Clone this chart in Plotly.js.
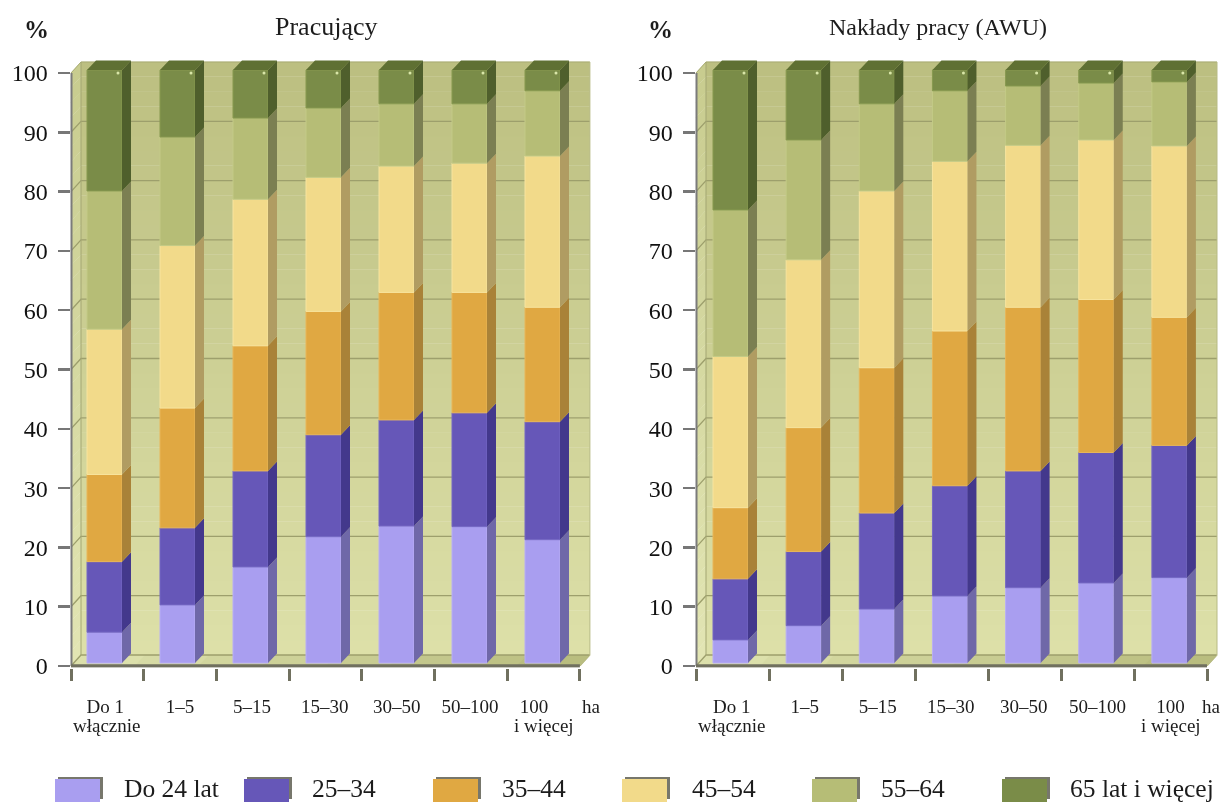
<!DOCTYPE html>
<html><head><meta charset="utf-8">
<script src="https://cdn.plot.ly/plotly-3.0.1.min.js"></script>
<style>html,body{margin:0;padding:0;background:#fff}#c{width:1223px;height:805px;filter:blur(0.45px)}</style>
</head><body><div id="c"></div>
<script>
const seriesNames = ['Do 24 lat','25–34','35–44','45–54','55–64','65 lat i więcej'];
const tickLabels = ['Do 1','1–5','5–15','15–30','30–50','50–100','100'];
const yTicks = [0,10,20,30,40,50,60,70,80,90,100];

// Pracujący
const p_do24 = [5.2,9.8,16.2,21.3,23.1,23.0,20.8];
const p_2534 = [11.9,13.0,16.2,17.2,17.9,19.2,19.9];
const p_3544 = [14.7,20.2,21.1,20.8,21.5,20.3,19.3];
const p_4554 = [24.5,27.4,24.7,22.6,21.3,21.8,25.5];
const p_5564 = [23.3,18.3,13.7,11.7,10.5,10.0,11.0];
const p_65   = [20.4,11.3,8.1,6.4,5.7,5.7,3.5];
// Nakłady pracy (AWU)
const n_do24 = [3.9,6.3,9.1,11.3,12.7,13.5,14.4];
const n_2534 = [10.3,12.5,16.2,18.6,19.7,22.0,22.3];
const n_3544 = [12.0,20.9,24.5,26.1,27.6,25.8,21.6];
const n_4554 = [25.5,28.3,29.8,28.6,27.3,26.9,28.9];
const n_5564 = [24.7,20.2,14.7,11.9,10.0,9.6,10.8];
const n_65   = [23.6,11.8,5.7,3.5,2.7,2.2,2.0];

const frontColors = ['#a99ef0','#6657b8','#e0a842','#f2da8a','#b6bd76','#7a8c48'];
const edgeColors  = ['#b8aef5','#7568c4','#e8b658','#f7e49e','#c3ca86','#87994f'];
const sideColors  = ['#6f68a8','#43388c','#a98238','#b09c62','#7b7f52','#4f5f2c'];
const capColor = '#5f7033';

const W=1223,H=805, Y0=666, PY=5.93;
const panels = [
 {ax:'',  X0:71, pu:72.7, right:593, bx0:104.5, bp:73,
  s:[p_do24,p_2534,p_3544,p_4554,p_5564,p_65],
  lab:[0.47,1.5,2.49,3.49,4.48,5.49,6.37], sec:[[0.49,'włącznie'],[6.5,'i więcej']], ha:591.5},
 {ax:'2', X0:696,pu:73,  right:1219, bx0:730.5, bp:73.15,
  s:[n_do24,n_2534,n_3544,n_4554,n_5564,n_65],
  lab:[0.49,1.49,2.49,3.49,4.49,5.5,6.5], sec:[[0.49,'włącznie'],[6.5,'i więcej']], ha:1211}
];
const traces=[], shapes=[], annotations=[], layout={};
const mix=(a,b,t)=>{const p=c=>[1,3,5].map(i=>parseInt(c.substr(i,2),16));const A=p(a),B=p(b);
  return 'rgb('+A.map((v,i)=>Math.round(v+(B[i]-v)*t)).join(',')+')';};

panels.forEach(P=>{
  const xa='x'+P.ax, ya='y'+P.ax;
  const dx=px=>px/P.pu, dy=px=>px/PY;
  const left=P.X0-0.5, bottom=Y0+1.5, top=58;
  layout['xaxis'+P.ax]={domain:[left/W,P.right/W],range:[(left-P.X0)/P.pu,(P.right-P.X0)/P.pu],
    anchor:ya,showgrid:false,zeroline:false,showline:false,tickmode:'array',tickvals:P.lab,ticktext:tickLabels,
    ticks:'',ticklabelstandoff:25,tickfont:{family:'Liberation Serif',size:19,color:'#1c1c1c'},
    minor:{tickmode:'array',tickvals:[0,1,2,3,4,5,6,7],ticks:'outside',ticklen:12,tickwidth:3,tickcolor:'#70705f'}};
  layout['yaxis'+P.ax]={domain:[(H-bottom)/H,(H-top)/H],range:[(Y0-bottom)/PY,(Y0-top)/PY],
    anchor:xa,showgrid:false,zeroline:false,showline:false,tickmode:'array',tickvals:yTicks,ticktext:yTicks.map(String),
    ticks:'outside',ticklen:12,tickwidth:2.5,tickcolor:'#777',ticklabelstandoff:5,
    tickfont:{family:'Liberation Serif',size:24,color:'#111'}};

  // Walls and floor, shaded in thin bands behind the bars
  const W_DX=dx(10), W_DY=dy(11), xEnd=7;
  const N=40;
  for(let k=0;k<N;k++){
    const v0=100*k/N, v1=100*(k+1)/N+0.05, t=(k+0.5)/N;
    shapes.push({type:'rect',layer:'below',xref:xa,yref:ya,x0:W_DX,x1:xEnd+W_DX,y0:v0+W_DY,y1:v1+W_DY,
      fillcolor:mix('#dde0a9','#bcbf80',t),line:{width:0}});
    shapes.push({type:'path',layer:'below',xref:xa,yref:ya,
      path:`M0 ${v0} L${W_DX} ${v0+W_DY} L${W_DX} ${v1+W_DY} L0 ${v1} Z`,
      fillcolor:mix('#e2e5b3','#c8cc8f',t),line:{width:0}});
  }
  const F=8;
  for(let k=0;k<F;k++){
    const a=xEnd*k/F,b=xEnd*(k+1)/F+0.01,t=(k+0.5)/F;
    shapes.push({type:'path',layer:'below',xref:xa,yref:ya,
      path:`M${a} 0 L${a+W_DX} ${W_DY} L${b+W_DX} ${W_DY} L${b} 0 Z`,
      fillcolor:mix('#dfe2ae','#b6ba7c',t),line:{width:0}});
  }
  // grid lines
  const gridColor='#9d9f6c';
  yTicks.forEach(v=>{
    shapes.push({type:'path',layer:'below',xref:xa,yref:ya,
      path:`M0 ${v} L${W_DX} ${v+W_DY} L${xEnd+W_DX} ${v+W_DY}`,
      line:{color:v===100?'#a8ab74':gridColor,width:v===100?1:1.3}});
  });
  shapes.push({type:'line',layer:'below',xref:xa,yref:ya,x0:W_DX,x1:W_DX,y0:W_DY,y1:100+W_DY,line:{color:'#a3a672',width:1}});
  shapes.push({type:'path',layer:'below',xref:xa,yref:ya,
      path:`M7 0 L${7+W_DX} ${W_DY} L${7+W_DX} ${100+W_DY}`,line:{color:'#b7ba84',width:1}});

  // Bars
  const xs=P.s[0].map((_,i)=>(P.bx0+P.bp*i-P.X0)/P.pu);
  const bw=dx(35), sx=dx(9), sy=dy(9.5), lift=0.5;
  const cum=P.s[0].map(()=>lift);
  P.s.forEach((vals,si)=>{
    const bases=cum.slice();
    traces.push({type:'bar',name:seriesNames[si],x:xs,y:vals,base:bases,width:bw,xaxis:xa,yaxis:ya,
      marker:{color:frontColors[si],line:{color:edgeColors[si],width:1}},hoverinfo:'skip',showlegend:false});
    const px=[],py=[];
    vals.forEach((v,i)=>{
      const r=xs[i]+bw/2, b=bases[i], t=b+v;
      px.push(r,r+sx,r+sx,r,r,null); py.push(b,b+sy,t+sy,t,b,null);
      cum[i]=t;
    });
    traces.push({type:'scatter',mode:'lines',x:px,y:py,fill:'toself',fillcolor:sideColors[si],
      line:{width:0,color:sideColors[si]},xaxis:xa,yaxis:ya,hoverinfo:'skip',showlegend:false});
  });
  // top caps and highlights
  const cx=[],cy=[];
  xs.forEach((x,i)=>{const l=x-bw/2,r=x+bw/2,t=cum[i];
    cx.push(l,l+sx,r+sx,r,l,null); cy.push(t,t+sy,t+sy,t,t,null);});
  traces.push({type:'scatter',mode:'lines',x:cx,y:cy,fill:'toself',fillcolor:capColor,line:{width:0,color:capColor},
    xaxis:xa,yaxis:ya,hoverinfo:'skip',showlegend:false});
  traces.push({type:'scatter',mode:'markers',x:xs.map(x=>x+bw/2-dx(4)),y:cum.map(t=>t-dy(3)),
    marker:{size:3,color:'#d9e6a8'},xaxis:xa,yaxis:ya,hoverinfo:'skip',showlegend:false});

  // axis lines
  traces.push({type:'scatter',mode:'lines',x:[0,0],y:[0,100],line:{color:'#7b7b7b',width:3},xaxis:xa,yaxis:ya,hoverinfo:'skip',showlegend:false});
  traces.push({type:'scatter',mode:'lines',x:[0,7],y:[0,0],line:{color:'#70705f',width:3.5},xaxis:xa,yaxis:ya,hoverinfo:'skip',showlegend:false});

  // second lines of labels
  P.sec.forEach(([x,t])=>annotations.push({xref:xa,yref:'paper',x:x,y:1-725/H,text:t,showarrow:false,xanchor:'center',yanchor:'middle',
     font:{family:'Liberation Serif',size:19,color:'#1c1c1c'}}));
  annotations.push({xref:'paper',yref:'paper',x:P.ha/W,y:1-706/H,text:'ha',showarrow:false,xanchor:'center',yanchor:'middle',
     font:{family:'Liberation Serif',size:19,color:'#1c1c1c'}});
});

const paperText=(x,y,t,size,anchor)=>annotations.push({xref:'paper',yref:'paper',x:x/W,y:1-y/H,text:t,showarrow:false,
  xanchor:anchor||'center',yanchor:'middle',font:{family:'Liberation Serif',size:size,color:'#1c1c1c'}});
paperText(327,27,'Pracujący',26);
paperText(938,27,'Nakłady pracy (AWU)',24);
paperText(36,29,'<b>%</b>',25);
paperText(660,29,'<b>%</b>',25);

const swX=[55,244,433,622,812,1002], txtX=[122,310,500,690,879,1068];
seriesNames.forEach((n,i)=>{
  shapes.push({type:'rect',xref:'paper',yref:'paper',x0:(swX[i]+3)/W,x1:(swX[i]+48)/W,y0:1-799/H,y1:1-777/H,fillcolor:'#77776c',line:{width:0}});
  shapes.push({type:'rect',xref:'paper',yref:'paper',x0:swX[i]/W,x1:(swX[i]+45)/W,y0:1-802/H,y1:1-779/H,fillcolor:frontColors[i],line:{width:0}});
  paperText(txtX[i],788.5,n,25.5,'left');
});

Object.assign(layout,{width:W,height:H,margin:{l:0,r:0,t:0,b:0},paper_bgcolor:'#fff',plot_bgcolor:'rgba(0,0,0,0)',
  barmode:'overlay',showlegend:false,shapes,annotations});
Plotly.newPlot('c',traces,layout,{displayModeBar:false,staticPlot:true});
</script></body></html>
